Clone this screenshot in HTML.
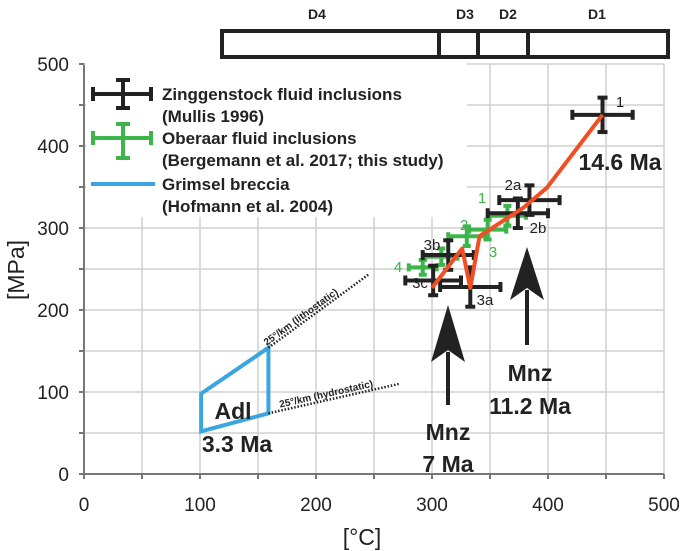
<!DOCTYPE html>
<html><head><meta charset="utf-8"><style>
body{margin:0;background:#fff}
svg{display:block;font-family:"Liberation Sans",sans-serif}
</style></head><body>
<svg width="685" height="551" viewBox="0 0 685 551">
<g id="grid"></g>
<rect x="86" y="63" width="381" height="154" fill="#fff"/>
<g id="axes"></g>
<g fill="none" stroke="#222" stroke-width="4">
<rect x="222" y="31" width="446" height="26"/>
<line x1="439" y1="31" x2="439" y2="57"/><line x1="478" y1="31" x2="478" y2="57"/><line x1="528" y1="31" x2="528" y2="57"/>
</g>
<g font-weight="bold" font-size="14" fill="#222" text-anchor="middle">
<text x="317" y="19">D4</text>
<text x="465" y="19">D3</text>
<text x="508" y="19">D2</text>
<text x="597" y="19">D1</text>
</g>
<g id="marks"></g>
<g font-weight="bold" font-size="17" fill="#222">
<g stroke="#222" stroke-width="4"><line x1="93" y1="94" x2="151" y2="94"/><line x1="93" y1="87" x2="93" y2="101"/><line x1="151" y1="87" x2="151" y2="101"/><line x1="123" y1="80" x2="123" y2="108"/><line x1="116" y1="80" x2="130" y2="80"/><line x1="116" y1="108" x2="130" y2="108"/></g>
<g stroke="#3db54a" stroke-width="4"><line x1="93" y1="138" x2="151" y2="138"/><line x1="93" y1="131" x2="93" y2="145"/><line x1="151" y1="131" x2="151" y2="145"/><line x1="123" y1="124" x2="123" y2="158"/><line x1="116" y1="124" x2="130" y2="124"/><line x1="116" y1="158" x2="130" y2="158"/></g>
<line x1="91" y1="184" x2="155" y2="184" stroke="#3aa6dd" stroke-width="4"/>
<text x="162" y="100">Zinggenstock fluid inclusions</text>
<text x="162" y="122">(Mullis 1996)</text>
<text x="162" y="144">Oberaar fluid inclusions</text>
<text x="162" y="166">(Bergemann et al. 2017; this study)</text>
<text x="162" y="190">Grimsel breccia</text>
<text x="162" y="212">(Hofmann et al. 2004)</text>
</g>
<text x="24" y="270" transform="rotate(-90 24 270)" font-size="23" text-anchor="middle" fill="#222">[MPa]</text>
<text x="362" y="545" font-size="23" text-anchor="middle" fill="#222">[°C]</text>
</svg>
<script>
const xTicks=[0,100,200,300,400,500];
const yTicks=[0,100,200,300,400,500];
const zT=[447,384,374,314,301,333];
const zP=[438,334,318,267,236,228];
const zXe=[26,26,26,22,24,26];
const zYe=[21,18,18,18,18,24];
const zLabels=["1","2a","2b","3b","3c","3a"];
const gT=[292,308,330,348,365];
const gP=[252,265,290,298,315];
const gXe=[12,14,16,16,16];
const gYe=[9,10,12,12,12];
const pathT=[300,326,333,341,379,399,447];
const pathP=[227,275,227,290,325,349,438];
const brecciaT=[101,159,159,101];
const brecciaP=[98,154,74,52];
const X=t=>84+t*1.16, Y=p=>474-p*0.82;
const NS="http://www.w3.org/2000/svg";
function mk(tag,attrs,parent,txt){const e=document.createElementNS(NS,tag);for(const k in attrs)e.setAttribute(k,attrs[k]);if(txt!=null)e.textContent=txt;parent.appendChild(e);return e;}
const grid=document.getElementById('grid'),axes=document.getElementById('axes'),marks=document.getElementById('marks');
for(let v=50;v<=500;v+=50){
 let l=mk('line',{x1:X(v),x2:X(v),y1:Y(0),y2:Y(500),stroke:'#d0d0d0','stroke-width':1.5},grid);
 
 
 let h=mk('line',{x1:X(0),x2:X(500),y1:Y(v),y2:Y(v),stroke:'#d0d0d0','stroke-width':1.5},grid);
 
 
}
mk('line',{x1:X(0),x2:X(0),y1:Y(0),y2:Y(500)+1,stroke:'#777','stroke-width':2},axes);
mk('line',{x1:X(0)-1,x2:X(500),y1:Y(0),y2:Y(0),stroke:'#777','stroke-width':2},axes);
for(let v=0;v<=500;v+=50){
 mk('line',{x1:X(0)-5,x2:X(0),y1:Y(v),y2:Y(v),stroke:'#777','stroke-width':2},axes);
 mk('line',{x1:X(v),x2:X(v),y1:Y(0),y2:Y(0)+5,stroke:'#777','stroke-width':2},axes);
}
xTicks.forEach(v=>{const t=mk('text',{x:X(v),y:511,'font-size':19,'text-anchor':'middle',fill:'#222'},axes,String(v));
 
 });
yTicks.forEach(v=>{const t=mk('text',{x:69,y:Y(v)+7,'font-size':19,'text-anchor':'end',fill:'#222'},axes,String(v));
 
 });
const bp=mk('polygon',{points:brecciaT.map((t,i)=>X(t)+','+Y(brecciaP[i])).join(' '),fill:'none',stroke:'#3aa6dd','stroke-width':4,'stroke-linejoin':'miter'},marks);


const l1=mk('line',{x1:X(159),y1:Y(154),x2:X(245),y2:Y(243),stroke:'#222','stroke-width':2.5,'stroke-dasharray':'1.5 1.8'},marks);


const l2=mk('line',{x1:X(159),y1:Y(74),x2:X(272),y2:Y(110),stroke:'#222','stroke-width':2.5,'stroke-dasharray':'1.5 1.8'},marks);


function rotText(t1,p1,t2,p2,txt,off,name){const a=Math.atan2(Y(p2)-Y(p1),X(t2)-X(t1))*180/Math.PI;const x=X(t1)+off*Math.cos(a*Math.PI/180),y=Y(p1)+off*Math.sin(a*Math.PI/180)-3;
 const e=mk('text',{x:x,y:y,'font-size':10,'font-weight':'bold',fill:'#222',transform:`rotate(${a} ${x} ${y})`},marks,txt);
 
 }
rotText(159,154,245,243,'25°/km (lithostatic)',-2,'lithostatic-label');
rotText(159,74,272,110,'25°/km (hydrostatic)',12,'hydrostatic-label');
function cross(t,p,xe,ye,col,cap,name){const g=mk('g',{stroke:col,'stroke-width':4},marks);
 
 
 mk('line',{x1:X(t-xe),x2:X(t+xe),y1:Y(p),y2:Y(p)},g);
 mk('line',{x1:X(t),x2:X(t),y1:Y(p-ye),y2:Y(p+ye)},g);
 mk('line',{x1:X(t-xe),x2:X(t-xe),y1:Y(p)-cap,y2:Y(p)+cap},g);
 mk('line',{x1:X(t+xe),x2:X(t+xe),y1:Y(p)-cap,y2:Y(p)+cap},g);
 mk('line',{x1:X(t)-cap,x2:X(t)+cap,y1:Y(p-ye),y2:Y(p-ye)},g);
 mk('line',{x1:X(t)-cap,x2:X(t)+cap,y1:Y(p+ye),y2:Y(p+ye)},g);}
gT.forEach((t,i)=>cross(t,gP[i],gXe[i],gYe[i],'#3db54a',4,'oberaar-point'));
zT.forEach((t,i)=>cross(t,zP[i],zXe[i],zYe[i],'#222',5,'zinggenstock-point'));
const lp=mk('polyline',{points:pathT.map((t,i)=>X(t)+','+Y(pathP[i])).join(' '),fill:'none',stroke:'#f04e23','stroke-width':4,'stroke-linejoin':'round'},marks);


const zl=[[620,107],[513,190],[538,233],[432,250],[420,288],[485,305]];
zLabels.forEach((s,i)=>{const e=mk('text',{x:zl[i][0],y:zl[i][1],'font-size':15,'text-anchor':'middle',fill:'#222'},marks,s);
 
 });
[['1',482,203],['2',464,230],['3',493,257],['4',398,272]].forEach(a=>{const e=mk('text',{x:a[1],y:a[2],'font-size':15,'text-anchor':'middle',fill:'#3db54a'},marks,a[0]);
 
 });
function arrow(x,tip,base,end,name){const g=mk('g',{fill:'#222',stroke:'#222'},marks);
 
 
 mk('line',{x1:x,x2:x,y1:base-10,y2:end,'stroke-width':4},g);
 mk('path',{d:`M${x} ${tip} L${x+17} ${base} L${x} ${base-12} L${x-17} ${base} Z`,stroke:'none'},g);}
arrow(448,305,362,405,'arrow-7ma');
arrow(527,247,300,345,'arrow-11ma');
[['Mnz',448,440,'mnz-7-label'],['7 Ma',448,472,'age-7ma'],['Mnz',530,381,'mnz-11-label'],['11.2 Ma',530,414,'age-11ma'],['Adl',233,419,'adl-label'],['3.3 Ma',237,452,'age-3ma'],['14.6 Ma',620,170,'age-14ma']].forEach(a=>{
 const e=mk('text',{x:a[1],y:a[2],'font-size':23,'font-weight':'bold','text-anchor':'middle',fill:'#222'},marks,a[0]);
 
 });
</script>
</body></html>
